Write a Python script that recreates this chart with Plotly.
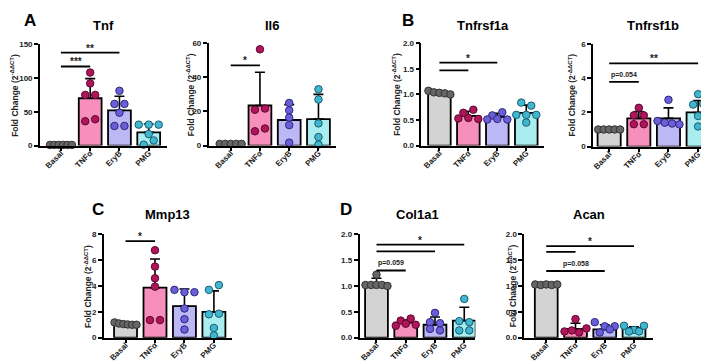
import plotly.graph_objects as go

# ---------------- data ----------------
groups = ["Basal", "TNFα", "EryB", "PMG"]

tnf_points = [[1.0, 1.0, 1.0, 1.0, 1.0, 1.0], [108, 92, 75, 75, 36, 39],
              [81, 61.6, 61.6, 48.6, 29, 29], [31, 31, 31, 17, 1.4, 7.6]]
tnf_mean = [1.0, 70.0, 52.0, 19.5]
tnf_sd = [0.1, 29.0, 21.0, 12.5]

il6_points = [[1.0, 1.0, 1.0, 1.0, 1.0], [56.4, 21.0, 21.7, 8.4, 10.0],
              [25.0, 20.7, 16.4, 12.0, 1.7], [33.0, 27.0, 13.0, 5.0, 0.6]]
il6_mean = [1.0, 23.5, 15.0, 15.5]
il6_sd = [0.05, 19.5, 9.0, 14.5]

tnfrsf1a_points = [[1.07, 1.04, 1.03, 1.02, 1.0], [0.64, 0.70, 0.53, 0.54, 0.52],
                   [0.59, 0.65, 0.51, 0.52, 0.51], [0.84, 0.78, 0.60, 0.60, 0.60, 0.45]]
tnfrsf1a_mean = [1.04, 0.58, 0.56, 0.64]
tnfrsf1a_sd = [0.03, 0.09, 0.07, 0.15]

tnfrsf1b_points = [[1.0, 1.0, 1.0, 1.0, 1.0], [2.27, 1.83, 1.83, 1.31, 1.31],
                   [2.74, 1.5, 1.4, 1.35, 1.3], [3.07, 2.46, 2.5, 1.79, 1.18]]
tnfrsf1b_mean = [1.0, 1.65, 1.65, 2.0]
tnfrsf1b_sd = [0.03, 0.40, 0.62, 0.69]

mmp13_points = [[1.18, 1.1, 1.05, 1.02, 1.0, 1.0], [6.77, 5.5, 4.6, 3.95, 1.36, 1.36],
                [3.7, 3.52, 3.52, 2.26, 1.43, 0.63], [3.7, 4.07, 1.81, 1.86, 0.75, 0.18]]
mmp13_mean = [1.0, 3.87, 2.44, 2.0]
mmp13_sd = [0.08, 2.22, 1.33, 1.62]

col1a1_points = [[1.22, 1.02, 1.02, 1.02, 1.02, 1.0], [0.33, 0.37, 0.23, 0.27, 0.25],
                 [0.48, 0.30, 0.28, 0.17, 0.14], [0.75, 0.32, 0.30, 0.14, 0.14]]
col1a1_mean = [1.05, 0.29, 0.25, 0.33]
col1a1_sd = [0.10, 0.05, 0.15, 0.26]

acan_points = [[1.03, 1.02, 1.03, 1.02, 1.03], [0.36, 0.12, 0.14, 0.10, 0.18],
               [0.30, 0.22, 0.22, 0.10, 0.16], [0.23, 0.15, 0.23, 0.12, 0.12]]
acan_mean = [1.02, 0.17, 0.16, 0.19]
acan_sd = [0.01, 0.11, 0.09, 0.02]

# significance brackets: (from group, to group, y, label)
tnf_sig = [(0, 1, 117, "***"), (0, 2, 137.5, "**")]
il6_sig = [(0, 1, 47, "*")]
tnfrsf1a_sig = [(0, 2, 1.62, "*"), (0, 1, 1.47, "")]
tnfrsf1b_sig = [(0, 3, 4.87, "**"), (0, 1, 3.79, "p=0.054")]
mmp13_sig = [(0, 1, 7.47, "*")]
col1a1_sig = [(0, 3, 1.80, "*"), (0, 2, 1.67, ""), (0, 1, 1.30, "p=0.059")]
acan_sig = [(0, 3, 1.77, "*"), (0, 1, 1.66, ""), (0, 2, 1.29, "p=0.058")]

tnf_ticks = [0, 50, 100, 150]
il6_ticks = [0, 20, 40, 60]
frac_ticks = [0.0, 0.5, 1.0, 1.5, 2.0]
tnfrsf1b_ticks = [0, 2, 4, 6]
mmp13_ticks = [0, 2, 4, 6, 8]

# ---------------- styling / layout ----------------
W, H = 709, 361
FONT = "Liberation Sans, Arial, sans-serif"
bar_fill = ["#d3d3d3", "#f78fbc", "#bcb8f5", "#a9edf1"]
pt_fill = ["#666666", "#b0145a", "#6a5fd8", "#40b6d0"]
pt_line = ["#333333", "#5a0a2e", "#2c287a", "#1a5c6c"]

# name, points, mean, sd, sig, ticks, tickfmt, (x0, x1, ytop, ybot, basal_px, spacing_px), ytitle_x, title_y
panels = [
    ("Tnf", tnf_points, tnf_mean, tnf_sd, tnf_sig, tnf_ticks, "{:g}", (31, 158, 33, 137, 52, 29.3), 6, 14),
    ("Il6", il6_points, il6_mean, il6_sd, il6_sig, il6_ticks, "{:g}", (200, 327, 32, 137, 222, 29.3), 182, 14),
    ("Tnfrsf1a", tnfrsf1a_points, tnfrsf1a_mean, tnfrsf1a_sd, tnfrsf1a_sig, frac_ticks, "{:.1f}",
     (413, 536, 32, 137, 431, 29.0), 388, 14),
    ("Tnfrsf1b", tnfrsf1b_points, tnfrsf1b_mean, tnfrsf1b_sd, tnfrsf1b_sig, tnfrsf1b_ticks, "{:g}",
     (585, 705, 33, 138, 601, 29.7), 564, 14),
    ("Mmp13", mmp13_points, mmp13_mean, mmp13_sd, mmp13_sig, mmp13_ticks, "{:g}",
     (95, 223, 228, 334, 116.7, 29.5), 80, 208),
    ("Col1a1", col1a1_points, col1a1_mean, col1a1_sd, col1a1_sig, frac_ticks, "{:.1f}",
     (351, 467, 228, 334, 368, 29.3), None, 208),
    ("Acan", acan_points, acan_mean, acan_sd, acan_sig, frac_ticks, "{:.1f}",
     (516, 645, 228, 334, 538, 29.3), 505, 208),
]


def dodge(vals, px_per_unit, px_per_cat, thr=5.0, step=10.0, span=22.0):
    order = sorted(range(len(vals)), key=lambda i: -vals[i])
    clusters = []
    for i in order:
        if clusters and (vals[clusters[-1][0]] - vals[i]) * px_per_unit < thr:
            clusters[-1].append(i)
        else:
            clusters.append([i])
    offs = [0.0] * len(vals)
    for c in clusters:
        c = sorted(c)
        n = len(c)
        if n > 1:
            s = min(step, span / (n - 1))
            for k, i in enumerate(c):
                offs[i] = (k - (n - 1) / 2) * s / px_per_cat
    return offs


fig = go.Figure()
annotations = []
shapes = []
layout = {}
ytitle = "Fold Change (2<sup>-ΔΔCT</sup>)"

for k, (name, pts, mean, sd, sig, ticks, fmt, geo, ytx, tty) in enumerate(panels):
    x0, x1, ytop, ybot, basal_px, sp = geo
    ax = "" if k == 0 else str(k + 1)
    xr = [-(basal_px - x0) / sp, (x1 - basal_px) / sp]
    ymax = ticks[-1]
    ppu = (ybot - ytop) / ymax

    fig.add_trace(go.Bar(
        x=list(range(4)), y=mean, width=0.78,
        marker=dict(color=bar_fill, line=dict(color="black", width=1.8)),
        error_y=dict(type="data", symmetric=False, array=sd, arrayminus=[0] * 4,
                     color="black", thickness=1.6, width=5),
        xaxis="x" + ax, yaxis="y" + ax, hoverinfo="skip"))
    for g in range(4):
        offs = dodge(pts[g], ppu, sp)
        fig.add_trace(go.Scatter(
            x=[g + o for o in offs], y=pts[g], mode="markers", cliponaxis=False,
            marker=dict(size=7.5, color=pt_fill[g], line=dict(color=pt_line[g], width=1)),
            xaxis="x" + ax, yaxis="y" + ax, hoverinfo="skip"))

    layout["xaxis" + ax] = dict(
        domain=[x0 / W, x1 / W], range=xr, anchor="y" + ax,
        tickvals=list(range(4)), ticktext=groups, tickangle=-45, ticklabelstandoff=-6,
        showline=True, linecolor="black", linewidth=1.6, ticks="outside", ticklen=4,
        tickwidth=1.5, tickcolor="black", showgrid=False, zeroline=False,
        tickfont=dict(family=FONT, size=8, color="#222", weight="bold"), fixedrange=True)
    layout["yaxis" + ax] = dict(
        domain=[1 - ybot / H, 1 - ytop / H], range=[0, ymax], anchor="x" + ax,
        tickvals=ticks, ticktext=[fmt.format(t) for t in ticks],
        showline=True, linecolor="black", linewidth=1.6, ticks="outside", ticklen=4,
        tickwidth=1.5, tickcolor="black", showgrid=False, zeroline=False,
        tickfont=dict(family=FONT, size=8, color="#222", weight="bold"), fixedrange=True)

    annotations.append(dict(
        text="<b>%s</b>" % name, x=(x0 + x1) / 2 / W, y=1 - tty / H, xref="paper", yref="paper",
        showarrow=False, xanchor="center", yanchor="middle",
        font=dict(family=FONT, size=13, color="black")))
    if ytx is not None:
        annotations.append(dict(
            text="<b>%s</b>" % ytitle, x=ytx / W, y=1 - (ytop + ybot) / 2 / H, xref="paper", yref="paper",
            showarrow=False, xanchor="center", yanchor="middle", textangle=-90,
            font=dict(family=FONT, size=8.5, color="#222")))

    for (a, b, yv, lab) in sig:
        shapes.append(dict(type="line", xref="x" + ax, yref="y" + ax, x0=a, x1=b, y0=yv, y1=yv,
                           line=dict(color="black", width=1.8)))
        if lab:
            is_p = lab.startswith("p")
            annotations.append(dict(
                text="<b>%s</b>" % lab, x=(a + b) / 2, y=yv, xref="x" + ax, yref="y" + ax,
                showarrow=False, xanchor="center", yanchor="bottom",
                yshift=(1 if is_p else -3),
                font=dict(family=FONT, size=(7 if is_p else 10), color="#222")))

for letter, lx, ly in [("A", 21, 9), ("B", 400, 9), ("C", 89, 203), ("D", 337, 203)]:
    annotations.append(dict(
        text="<b>%s</b>" % letter, x=lx / W, y=1 - ly / H, xref="paper", yref="paper",
        showarrow=False, xanchor="center", yanchor="middle",
        font=dict(family=FONT, size=17, color="black")))

fig.update_layout(
    width=W, height=H, margin=dict(l=0, r=0, t=0, b=0),
    paper_bgcolor="white", plot_bgcolor="white", showlegend=False,
    annotations=annotations, shapes=shapes, **layout)

fig.write_html("out.html")
